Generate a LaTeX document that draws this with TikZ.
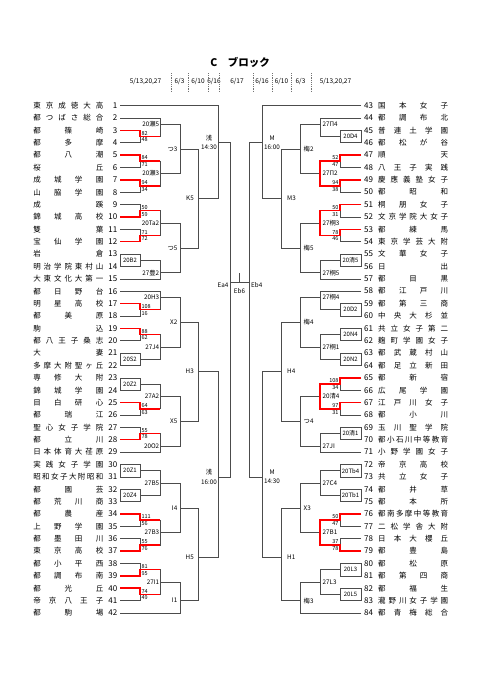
\documentclass[tikz,border=0pt]{standalone}
\usepackage{fontspec}
\setmainfont{Noto Sans CJK JP}
\usetikzlibrary{calc}
\newcommand{\Y}[1]{{105.5+(#1-1)*12.378}}
\newcommand{\fsz}[1]{\fontsize{#1}{#1}\selectfont}
\makeatletter
\newcommand{\tname}[1]{\makebox[70pt][s]{\tn@first#1\relax}}
\def\tn@first#1{#1\tn@rest}
\def\tn@rest#1{\ifx\relax#1\else\hfill#1\expandafter\tn@rest\fi}
\makeatother
\begin{document}
\begin{tikzpicture}[x=1pt, y=-1pt,
  every node/.style={font=\fsz{6.3}},
  ln/.style={draw=black!70, line width=0.55pt},
  win/.style={draw=red, line width=1.5pt},
  lbl/.style={inner sep=0pt, font=\fontsize{6.3}{9.5}\selectfont, align=center},
  sc/.style={inner sep=0pt, font=\fsz{5.5}},
  boxn/.style={ln, minimum width=20pt, minimum height=12.378pt, inner sep=0pt, font=\fsz{6}},
  lteam/.style={anchor=east, inner sep=0pt, font=\fsz{7.5}},
  rteam/.style={anchor=west, inner sep=0pt, font=\fsz{7.5}},
  datel/.style={font=\fsz{6.5}, inner sep=0pt},
  sepl/.style={draw=black!55, line width=0.4pt, dash pattern=on 1.2pt off 1pt}
]
\fill[white] (0,0) rectangle (481,680);
\useasboundingbox (0,0) rectangle (481,680);

% Title and dates
\node[font=\bfseries\fsz{10.5}] (title) at (240,62) {C　ブロック};
\node[datel] (d1) at (145.5,82) {5/13,20,27};
\node[datel] (d2) at (179.5,82) {6/3};
\node[datel] (d3) at (198,82) {6/10};
\node[datel] (d4) at (214,82) {6/16};
\node[datel] (d5) at (237,82) {6/17};
\node[datel] (d6) at (262,82) {6/16};
\node[datel] (d7) at (281.5,82) {6/10};
\node[datel] (d8) at (300.5,82) {6/3};
\node[datel] (d9) at (335.5,82) {5/13,20,27};
\foreach \x in {171,188,208,219,253,272,291,311}
  \draw[sepl] (\x,73) -- (\x,91);

% Teams, left
\foreach \n [count=\i] in {東京成徳大高,都つばさ総合,都篠崎,都多摩,都八潮,桜丘,成城学園,山脇学園,成蹊,錦城高校,
  雙葉,宝仙学園,岩倉,明治学院東村山,大東文化大第一,都日野台,明星高校,都美原,駒込,都八王子桑志,
  大妻,多摩大附聖ヶ丘,専修大附,錦城学園,目白研心,都瑞江,聖心女子学院,都立川,日本体育大荏原,実践女子学園,
  昭和女子大附昭和,都園芸,都荒川商,都農産,上野学園,都墨田川,東京高校,都小平西,都調布南,都光丘,
  帝京八王子,都駒場}{
  \node[lteam] (t\i) at (117.5,\Y{\i}) {\expandafter\tname\expandafter{\n}\hspace{4pt}\makebox[10pt][r]{\fsz{8}\i}};
  \coordinate (s\i) at (120,\Y{\i});
}
% Teams, right
\foreach \n [count=\k, evaluate=\k as \j using int(\k+42)] in {国本女子,都調布北,普連土学園,都松が谷,順天,八王子実践,慶應義塾女子,都昭和,桐朋女子,文京学院大女子,
  都練馬,東京学芸大附,文華女子,日出,都目黒,都江戸川,都第三商,中央大杉並,共立女子第二,麹町学園女子,
  都武蔵村山,都足立新田,都新宿,広尾学園,江戸川女子,都小川,玉川聖学院,都小石川中等教育,小野学園女子,帝京高校,
  共立女子,都井草,都本所,都南多摩中等教育,二松学舎大附,日本大櫻丘,都豊島,都松原,都第四商,都福生,
  瀧野川女子学園,都青梅総合}{
  \node[rteam] (t\j) at (364,\Y{\k}) {\makebox[10pt][l]{\fsz{8}\j}\hspace{4pt}\expandafter\tname\expandafter{\n}};
  \coordinate (s\j) at (361,\Y{\k});
}

% Left bracket: match points
\foreach \a/\b in {3/4,5/6,7/8,9/10,11/12,17/18,19/20,25/26,27/28,34/35,36/37,38/39,40/41}
  \coordinate (g\a\b) at (140,\Y{\a+0.5});
\foreach \a/\c in {13/20B2,21/20S2,23/20Z2,30/20Z1,32/20Z4}
  \node[boxn] (b\a) at (130,\Y{\a+0.5}) {\c};
\coordinate (mse5) at (160,\Y{2.5});
\coordinate (mse3) at (160,\Y{6.5});
\coordinate (mta2) at (160,\Y{10.5});
\coordinate (mtoyo2) at (160,\Y{14.5});
\coordinate (mh3a) at (160,\Y{16.5});
\coordinate (mj4) at (160,\Y{20.5});
\coordinate (ma2) at (160,\Y{24.5});
\coordinate (mo2) at (160,\Y{28.5});
\coordinate (mb5) at (160,\Y{31.5});
\coordinate (mb3) at (160,\Y{35.5});
\coordinate (mi1a) at (160,\Y{39.5});
\coordinate (tu3) at (180,\Y{4.5});
\coordinate (tu5) at (180,\Y{12.5});
\coordinate (x2) at (180,\Y{18.5});
\coordinate (x5) at (180,\Y{26.5});
\coordinate (i4) at (180,\Y{33.5});
\coordinate (i1) at (180,\Y{41});
\coordinate (k5) at (198.5,\Y{8.5});
\coordinate (h3) at (198.5,\Y{22.5});
\coordinate (h5) at (198.5,\Y{37.5});
\coordinate (asa1) at (218,\Y{4});
\coordinate (asa2) at (218,\Y{31});
\coordinate (fa) at (230,\Y{15.3});

% Right bracket: match points
\foreach \a/\b in {47/48,49/50,51/52,53/54,65/66,67/68,76/77,78/79}
  \coordinate (g\a\b) at (340,\Y{\a-42+0.5});
\foreach \a/\c in {45/20D4,55/20清5,59/20D2,61/20N4,63/20N2,69/20清1,72/20Tb4,74/20Tb1,80/20L3,82/20L5}
  \node[boxn, minimum width=21pt] (b\a) at (350.5,\Y{\a-42+0.5}) {\c};
\coordinate (mpi4) at (320,\Y{2.5});
\coordinate (mpi2) at (320,\Y{6.5});
\coordinate (mki3) at (320,\Y{10.5});
\coordinate (mki5) at (320,\Y{14.5});
\coordinate (mki4) at (320,\Y{16.5});
\coordinate (mki1) at (320,\Y{20.5});
\coordinate (mse4) at (320,\Y{24.5});
\coordinate (mji) at (320,\Y{28.5});
\coordinate (mc4) at (320,\Y{31.5});
\coordinate (mb1) at (320,\Y{35.5});
\coordinate (ml3) at (320,\Y{39.5});
\coordinate (ume2) at (300.5,\Y{4.5});
\coordinate (ume5) at (300.5,\Y{12.5});
\coordinate (ume4) at (300.5,\Y{18.5});
\coordinate (tu4) at (300.5,\Y{26.5});
\coordinate (x3) at (300.5,\Y{33.5});
\coordinate (ume3) at (300.5,\Y{41});
\coordinate (m3) at (281.5,\Y{8.5});
\coordinate (h4) at (281.5,\Y{22.5});
\coordinate (h1) at (281.5,\Y{37.5});
\coordinate (mm1) at (262.5,\Y{4});
\coordinate (mm2) at (262.5,\Y{31});
\coordinate (fb) at (249,\Y{15.3});

% Left bracket lines
\foreach \a/\b in {3/4,5/6,7/8,9/10,11/12,17/18,19/20,25/26,27/28,34/35,36/37,38/39,40/41}
  \draw[ln] (s\a) -| (g\a\b) (s\b) -| (g\a\b);
\draw[ln] (s2) -| (mse5) (g34) -| (mse5)
          (g56) -| (mse3) (g78) -| (mse3)
          (g910) -| (mta2) (g1112) -| (mta2)
          (b13.east) -| (mtoyo2) (s15) -| (mtoyo2)
          (s16) -| (mh3a) (g1718) -| (mh3a)
          (g1920) -| (mj4) (b21.east) -| (mj4)
          (b23.east) -| (ma2) (g2526) -| (ma2)
          (g2728) -| (mo2) (s29) -| (mo2)
          (b30.east) -| (mb5) (b32.east) -| (mb5)
          (g3435) -| (mb3) (g3637) -| (mb3)
          (g3839) -| (mi1a) (g4041) -| (mi1a);
\draw[ln] (mse5) -| (tu3) (mse3) -| (tu3)
          (mta2) -| (tu5) (mtoyo2) -| (tu5)
          (mh3a) -| (x2) (mj4) -| (x2)
          (ma2) -| (x5) (mo2) -| (x5)
          (mb5) -| (i4) (mb3) -| (i4)
          (mi1a) -| (i1) (s42) -| (i1);
\draw[ln] (tu3) -| (k5) (tu5) -| (k5)
          (x2) -| (h3) (x5) -| (h3)
          (i4) -| (h5) (i1) -| (h5);
\draw[ln] (s1) -| (asa1) (k5) -| (asa1)
          (h3) -| (asa2) (h5) -| (asa2)
          (asa1) -| (fa) (asa2) -| (fa);

% Right bracket lines
\foreach \a/\b in {47/48,49/50,51/52,53/54,65/66,67/68,76/77,78/79}
  \draw[ln] (s\a) -| (g\a\b) (s\b) -| (g\a\b);
\draw[ln] (s44) -| (mpi4) (b45.west) -| (mpi4)
          (g4748) -| (mpi2) (g4950) -| (mpi2)
          (g5152) -| (mki3) (g5354) -| (mki3)
          (b55.west) -| (mki5) (s57) -| (mki5)
          (s58) -| (mki4) (b59.west) -| (mki4)
          (b61.west) -| (mki1) (b63.west) -| (mki1)
          (g6566) -| (mse4) (g6768) -| (mse4)
          (b69.west) -| (mji) (s71) -| (mji)
          (b72.west) -| (mc4) (b74.west) -| (mc4)
          (g7677) -| (mb1) (g7879) -| (mb1)
          (b80.west) -| (ml3) (b82.west) -| (ml3);
\draw[ln] (mpi4) -| (ume2) (mpi2) -| (ume2)
          (mki3) -| (ume5) (mki5) -| (ume5)
          (mki4) -| (ume4) (mki1) -| (ume4)
          (mse4) -| (tu4) (mji) -| (tu4)
          (mc4) -| (x3) (mb1) -| (x3)
          (ml3) -| (ume3) (s84) -| (ume3);
\draw[ln] (ume2) -| (m3) (ume5) -| (m3)
          (ume4) -| (h4) (tu4) -| (h4)
          (x3) -| (h1) (ume3) -| (h1);
\draw[ln] (s43) -| (mm1) (m3) -| (mm1)
          (h4) -| (mm2) (h1) -| (mm2)
          (mm1) -| (fb) (mm2) -| (fb);

% Final
\draw[ln] (fa) -- (fb);
\coordinate (ctr) at ($(fa)!.5!(fb)$);
\draw[ln] (ctr) -- ++(0,-10);

% Winners (red)
\foreach \w/\g/\p in {3/g34/mse5,5/g56/mse3,7/g78/mse3,10/g910/mta2,12/g1112/mta2,17/g1718/mh3a,
  19/g1920/mj4,25/g2526/ma2,28/g2728/mo2,34/g3435/mb3,37/g3637/mb3,39/g3839/mi1a,40/g4041/mi1a}
  \draw[win] (s\w) -| (\g) -- (\g -| \p);
\foreach \w/\g/\p in {47/g4748/mpi2,49/g4950/mpi2,51/g5152/mki3,53/g5354/mki3,
  65/g6566/mse4,67/g6768/mse4,76/g7677/mb1,79/g7879/mb1}
  \draw[win] (s\w) -| (\g) -| (\p);

% Scores
\foreach \g/\u/\d in {g34/82/48,g56/84/71,g78/94/34,g910/50/59,g1112/71/72,g1718/108/16,g1920/88/62,
  g2526/64/63,g2728/55/78,g3435/111/56,g3637/55/76,g3839/81/95,g4041/74/49}{
  \node[sc, anchor=south west] (u\g) at ([xshift=1.3pt, yshift=1pt]\g) {\u};
  \node[sc, anchor=north west] (d\g) at ([xshift=1.3pt, yshift=-1.2pt]\g) {\d};
}
\foreach \g/\u/\d in {g4748/52/47,g4950/94/38,g5152/50/31,g5354/78/46,g6566/108/34,g6768/97/31,
  g7677/50/47,g7879/37/78}{
  \node[sc, anchor=south east] (u\g) at ([xshift=-1.3pt, yshift=1pt]\g) {\u};
  \node[sc, anchor=north east] (d\g) at ([xshift=-1.3pt, yshift=-1.2pt]\g) {\d};
}

% Match labels
\foreach \c/\t in {mse5/20瀬5,mse3/20瀬3,mta2/20Ta2,mtoyo2/27豊2,mh3a/20H3,mj4/27J4,ma2/27A2,
  mo2/20O2,mb5/27B5,mb3/27B3,mi1a/27I1}
  \node[lbl, anchor=east] (l\c) at ([xshift=-0.6pt]\c) {\t};
\foreach \c/\t in {tu3/つ3,tu5/つ5,x2/X2,x5/X5,i4/I4,i1/I1}
  \node[lbl, anchor=east] (l\c) at ([xshift=-2.5pt]\c) {\t};
\foreach \c/\t in {k5/K5,h3/H3,h5/H5}
  \node[lbl, anchor=east] (l\c) at ([xshift=-4.5pt]\c) {\t};
\node[lbl, anchor=east] (lasa1) at ([xshift=-1pt]asa1) {浅\\14:30};
\node[lbl, anchor=east] (lasa2) at ([xshift=-1pt]asa2) {浅\\16:00};
\foreach \c/\t in {mpi4/27Π4,mpi2/27Π2,mki3/27桐3,mki5/27桐5,mki4/27桐4,mki1/27桐1,mse4/20清4,
  mji/27JI,mc4/27C4,mb1/27B1,ml3/27L3}
  \node[lbl, anchor=west] (l\c) at ([xshift=2.5pt]\c) {\t};
\foreach \c/\t in {ume2/梅2,ume5/梅5,ume4/梅4,tu4/つ4,x3/X3,ume3/梅3}
  \node[lbl, anchor=west] (l\c) at ([xshift=3pt]\c) {\t};
\foreach \c/\t in {m3/M3,h4/H4,h1/H1}
  \node[lbl, anchor=west] (l\c) at ([xshift=5.5pt]\c) {\t};
\node[lbl, anchor=west] (lmm1) at ([xshift=1.5pt]mm1) {M\\16:00};
\node[lbl, anchor=west] (lmm2) at ([xshift=1.5pt]mm2) {M\\14:30};
\node[lbl, anchor=east] (lea4) at ([xshift=-1.5pt, yshift=-2.5pt]fa) {Ea4};
\node[lbl, anchor=west] (leb4) at ([xshift=2pt, yshift=-2.5pt]fb) {Eb4};
\node[lbl] (leb6) at ([yshift=-9pt]ctr) {Eb6};
\end{tikzpicture}
\end{document}
